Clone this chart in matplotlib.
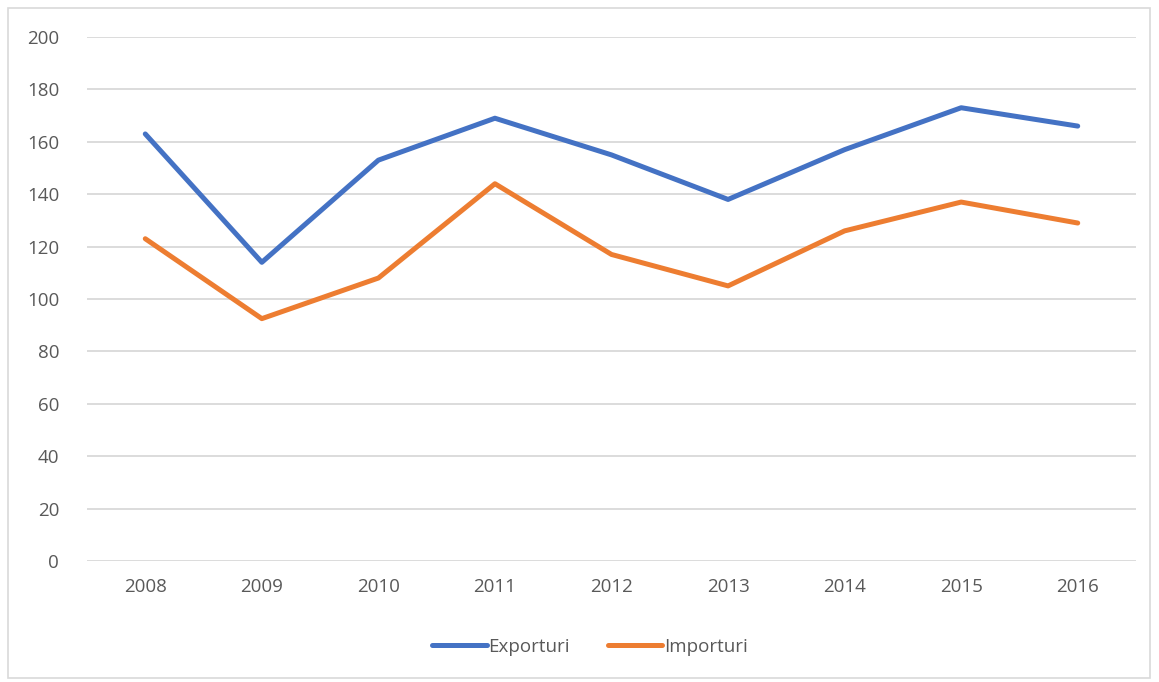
import matplotlib.pyplot as plt
from matplotlib.patches import Rectangle

years = ["2008", "2009", "2010", "2011", "2012", "2013", "2014", "2015", "2016"]
exporturi = [163, 114, 153, 169, 155, 138, 157, 173, 166]
importuri = [123, 92.5, 108, 144, 117, 105, 126, 137, 129]

plt.rcParams["font.family"] = ["Open Sans", "DejaVu Sans"]

W, H = 1159, 682
fig = plt.figure(figsize=(W / 100, H / 100), dpi=100)
ax = fig.add_axes([87 / W, 1 - 561 / H, (1136 - 87) / W, (561 - 37) / H])

x = list(range(len(years)))
ax.plot(x, exporturi, color="#4472C4", lw=3.6, label="Exporturi", solid_capstyle="round")
ax.plot(x, importuri, color="#ED7D31", lw=3.6, label="Importuri", solid_capstyle="round")

ax.set_xlim(-0.5, len(years) - 0.5)
ax.set_ylim(0, 200)
ax.set_yticks(range(0, 201, 20))
ax.set_xticks(x)
ax.set_xticklabels(years)
ax.grid(axis="y", color="#d9d9d9", lw=1.3)
ax.set_axisbelow(True)
for s in ax.spines.values():
    s.set_visible(False)
ax.tick_params(length=0, labelsize=13.5, colors="#595959", pad=12)
ax.tick_params(axis="y", pad=20)

leg = fig.legend(loc="center", bbox_to_anchor=(590 / W, 1 - 647 / H), ncol=2, frameon=False,
                 fontsize=13.5, handlelength=2.9, columnspacing=2.0, handletextpad=0.1)
for t in leg.get_texts():
    t.set_color("#595959")

fig.patches.append(Rectangle((8 / W, 1 - 678 / H), (1150 - 8) / W, (678 - 8) / H,
                             transform=fig.transFigure, fill=False, ec="#d9d9d9", lw=1.2))

fig.savefig("out.png", dpi=100)
